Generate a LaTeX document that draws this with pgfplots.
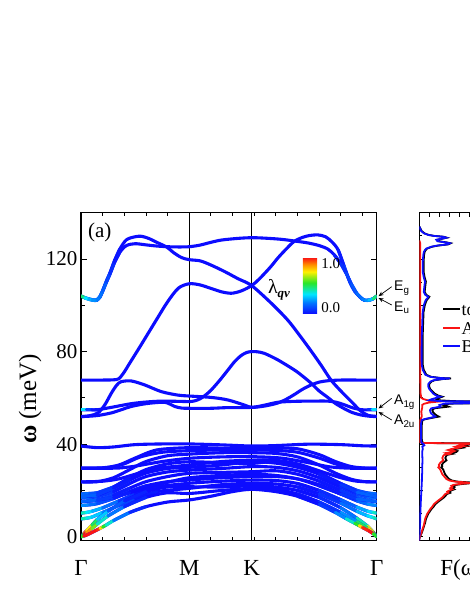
\documentclass[border=0pt]{standalone}
\usepackage{fontspec}
\setmainfont{Liberation Serif}
\newfontfamily\sansf{Liberation Sans}
\usepackage{pgfplots}
\usepackage{pgfplotstable}
\pgfplotsset{compat=1.18}
\usetikzlibrary{arrows.meta}

\definecolor{bandblue}{RGB}{12,12,255}
\definecolor{dosred}{RGB}{250,20,20}
\definecolor{dosblue}{RGB}{12,12,255}
\pgfplotsset{colormap={lqv}{rgb255(0cm)=(12,12,255); rgb255(2cm)=(0,120,255); rgb255(3.5cm)=(0,230,255); rgb255(5.5cm)=(40,230,40); rgb255(7.5cm)=(255,240,0); rgb255(8.8cm)=(255,140,0); rgb255(10cm)=(250,20,20)}}
\newcommand{\fs}[1]{\fontsize{#1}{#1}\selectfont}

% ---------- phonon bands: k (Gamma=0, M=1, K=1.577, Gamma=2.732), e in meV, c = lambda_qv
\pgfplotstableread{
k e c
0 104 0.55
0.035 103.3 0.4
0.07 102.8 0.3
0.105 102.4 0.25
0.145 102.3 0.22
0.175 103.8 0.2
0.2 106.3 0.18
0.235 110.5 0.13
0.268 114 0.08
0.31 119.3 0.04
0.36 124.4 0
0.42 128.3 0
0.5 129.6 0
0.56 129.8 0
0.63 128.8 0
0.7 127.2 0
0.79 125.2 0
0.86 122.6 0
0.93 120.6 0
1.0 119.7 0
1.1 119.2 0
1.2 117.4 0
1.33 114.5 0
1.45 111.5 0
1.577 108.5 0
1.76 100.8 0
1.91 93.6 0
2.02 87 0
2.13 80 0
2.22 74 0
2.31 67.7 0
2.4 63 0
2.5 58.3 0
2.58 54.5 0
2.65 52.5 0
2.732 52 0
}\bandA
\pgfplotstableread{
k e c
0 104 0.55
0.035 103.2 0.4
0.07 102.6 0.3
0.105 102.2 0.25
0.145 102.1 0.22
0.175 103.5 0.2
0.2 106 0.18
0.235 110 0.13
0.268 113.5 0.08
0.31 118.5 0.04
0.36 123 0
0.42 125.8 0
0.5 126.6 0
0.6 126.1 0
0.7 125.6 0
0.8 125.3 0
0.9 125.2 0
1.0 125.3 0
1.1 126 0
1.2 127.2 0
1.3 128.2 0
1.45 128.9 0
1.577 129.2 0
1.7 129 0
1.85 128.5 0
2.0 127.6 0
2.1 126.9 0
2.2 125.8 0
2.28 124.3 0
2.34 121.8 0
2.4 118 0.05
2.45 113.8 0.08
2.5 109 0.12
2.55 105 0.16
2.6 102.6 0.2
2.63 102.1 0.22
2.66 102.2 0.25
2.7 102.8 0.35
2.732 104 0.6
}\bandB
\pgfplotstableread{
k e c
0 67.7 0
0.1 67.7 0
0.2 67.7 0
0.3 67.8 0
0.35 68.3 0
0.4 71.2 0
0.45 75 0
0.55 82.5 0
0.695 93.6 0
0.8 101.5 0
0.9 107.4 0
1.0 109.3 0
1.1 108.8 0
1.2 107.3 0
1.3 105.8 0
1.39 105.2 0
1.48 106.2 0
1.577 108.5 0
1.65 111.5 0
1.75 116.5 0
1.82 120.5 0
1.9 124.5 0
1.97 127.6 0
2.05 129.4 0
2.12 130.2 0
2.19 130.4 0
2.26 129.6 0
2.32 127.3 0
2.376 123.9 0
2.43 117 0.06
2.484 110 0.12
2.53 106 0.16
2.576 103.7 0.2
2.62 102.1 0.22
2.67 102.3 0.28
2.7 102.9 0.35
2.732 104 0.6
}\bandC
\pgfplotstableread{
k e
0 51.9
0.08 52.3
0.157 53.5
0.22 57
0.28 62
0.33 65.5
0.372 67
0.465 67.3
0.588 65.6
0.742 62.7
0.895 61.2
1.0 60.8
1.203 60.2
1.357 59.1
1.51 56.9
1.577 55.9
1.7 56.5
1.819 57.8
1.9 59.5
1.973 61.5
2.05 63.8
2.127 65.6
2.2 66.8
2.28 67.4
2.4 67.7
2.55 67.7
2.732 67.7
}\bandD
\pgfplotstableread{
k e c
0 54.8 0.55
0.05 54.8 0.15
0.1 54.8 0.03
0.157 54.9 0
0.28 55.9 0
0.465 57.5 0
0.6 58.2 0
0.742 58.6 0
0.9 58.5 0
1.0 58.4 0
1.05 58.7 0
1.1 59.6 0
1.15 61.2 0
1.203 63.4 0
1.28 67.5 0
1.357 72 0
1.42 75.7 0
1.48 78.3 0
1.53 79.6 0
1.577 80 0
1.63 79.9 0
1.696 79.2 0
1.819 76.4 0
1.973 72 0
2.05 69.3 0
2.127 66.3 0
2.2 63 0
2.28 60.2 0
2.35 57.6 0
2.434 55.3 0
2.51 53.6 0
2.588 52.6 0
2.66 52.1 0
2.732 51.9 0
}\bandE
\pgfplotstableread{
k e c
0 51.9 0
0.08 52.1 0
0.157 52.4 0
0.28 53.5 0
0.38 55 0
0.465 56.3 0
0.6 57.5 0
0.742 58.1 0
0.8 57.8 0
0.865 56.3 0
0.93 55.6 0
1.0 55.5 0
1.2 55.5 0
1.357 55.8 0
1.577 55.9 0
1.7 56.9 0
1.819 58.1 0
1.97 58.5 0
2.127 58.6 0
2.28 58.6 0
2.36 58.1 0
2.434 57 0
2.51 55.7 0
2.588 54.9 0
2.65 54.8 0
2.69 54.8 0.12
2.732 54.8 0.55
}\bandF
\pgfplotstableread{
k e
0 39.2
0.15 38.5
0.3 38.8
0.5 39.8
0.75 40.1
1.0 40.1
1.3 39.7
1.577 39.2
1.8 39.4
2.1 40
2.4 39.8
2.6 39.3
2.732 39.2
}\lowA
\pgfplotstableread{
k e
0 29.6
0.15 29.6
0.27 29.9
0.4 31.5
0.55 34.5
0.75 36.5
1.0 37.2
1.3 37.5
1.577 37.5
1.8 37.3
2.0 36.5
2.2 34
2.35 31.5
2.5 29.9
2.62 29.6
2.732 29.6
}\lowB
\pgfplotstableread{
k e
0 29.6
0.2 29.6
0.35 29.7
0.5 30.5
0.75 32.5
1.0 33.9
1.3 34.5
1.577 34.6
1.85 34
2.1 32
2.3 30.2
2.5 29.6
2.732 29.6
}\lowC
\pgfplotstableread{
k e
0 23.7
0.15 23.8
0.3 25.5
0.45 29
0.6 32.5
0.8 35
1.0 35.7
1.3 36.3
1.577 36.3
1.8 36
2.0 34.5
2.2 31
2.35 27.5
2.5 24.8
2.62 23.8
2.732 23.7
}\lowD
\pgfplotstableread{
k e
0 23.7
0.2 24
0.35 25
0.5 27
0.7 29.5
1.0 31
1.3 32.5
1.577 33.1
1.8 33
2.0 31.5
2.2 28.5
2.4 25.5
2.55 24
2.732 23.7
}\lowE
\pgfplotstableread{
k e
0 29.6
0.2 29.8
0.35 31
0.5 34
0.7 37.5
1.0 38.5
1.3 38.3
1.577 38.2
1.8 38.3
2.0 38
2.2 35.5
2.35 32.5
2.5 30.3
2.65 29.6
2.732 29.6
}\lowF
\pgfplotstableread{
k e c
0 18.5 0.2
0.08 18.7 0.15
0.15 19 0.12
0.3 21.5 0.05
0.45 25.5 0
0.6 29 0
0.8 31.5 0
1.0 32.4 0
1.3 32 0
1.577 31.7 0
1.8 32.5 0
2.0 31 0
2.2 27.5 0
2.4 23 0.03
2.55 20 0.1
2.65 18.9 0.15
2.732 18.5 0.2
}\lowG
\pgfplotstableread{
k e c
0 16.8 0.2
0.08 17 0.15
0.15 17.3 0.12
0.3 19.5 0.05
0.45 23 0
0.6 26 0
0.8 28 0
1.0 28.8 0
1.3 29.5 0
1.577 30.3 0
1.8 30 0
2.0 28.5 0
2.2 25.5 0
2.4 21.5 0.03
2.55 18.5 0.1
2.65 17.2 0.15
2.732 16.8 0.2
}\lowH
\pgfplotstableread{
k e c
0 15.2 0.22
0.08 15.4 0.18
0.15 15.8 0.14
0.3 18 0.06
0.45 21 0
0.6 23.8 0
0.8 26 0
1.0 27.4 0
1.3 27.8 0
1.577 28.1 0
1.8 28.5 0
2.0 27 0
2.2 24 0
2.4 20 0.04
2.55 17 0.12
2.65 15.7 0.17
2.732 15.2 0.22
}\lowI
\pgfplotstableread{
k e c
0 13.5 0.25
0.08 13.8 0.2
0.15 14.3 0.16
0.3 16.5 0.08
0.45 19.5 0.02
0.6 22 0
0.8 23.8 0
1.0 24.5 0
1.3 25.5 0
1.577 26 0
1.8 26 0
2.0 25 0
2.2 22.5 0
2.4 18.5 0.05
2.55 15.5 0.14
2.65 14.1 0.2
2.732 13.5 0.25
}\lowJ
\pgfplotstableread{
k e c
0 10.2 0.45
0.05 10.5 0.38
0.1 11 0.32
0.2 12.5 0.25
0.35 15.5 0.12
0.5 18.5 0.04
0.7 21.5 0
1.0 23.1 0
1.3 24 0
1.577 24.5 0
1.8 24.3 0
2.0 23 0
2.2 20 0.02
2.4 16 0.1
2.55 12.8 0.22
2.65 11 0.3
2.7 10.5 0.36
2.732 10.2 0.45
}\lowK
\pgfplotstableread{
k e c
0 7.7 0.45
0.05 8 0.4
0.1 8.5 0.35
0.2 10.5 0.28
0.35 13.5 0.15
0.5 16.5 0.05
0.7 19.5 0
1.0 20.9 0
1.3 22.5 0
1.577 23.1 0
1.8 22.8 0
2.0 21.5 0
2.2 18.5 0.03
2.4 14.5 0.12
2.55 11 0.25
2.65 9 0.32
2.7 8.3 0.38
2.732 7.7 0.45
}\lowL
\pgfplotstableread{
k e c
0 15.2 0.2
0.15 15.9 0.12
0.3 17 0.06
0.45 19 0
0.6 21 0
0.8 23.5 0
1.0 25.5 0
1.3 26.5 0
1.577 27 0
1.8 26.5 0
2.0 25 0
2.2 22 0
2.4 18.5 0.04
2.55 16.3 0.12
2.732 15.2 0.2
}\lowM
\pgfplotstableread{
k e c
0 17.3 0.2
0.15 18 0.12
0.3 21 0.05
0.45 24.5 0
0.6 27.5 0
0.8 29.5 0
1.0 30 0
1.3 31 0
1.577 32.4 0
1.8 31.8 0
2.0 30 0
2.2 27 0
2.4 22.5 0.04
2.55 19.2 0.12
2.732 17.3 0.2
}\lowN
\pgfplotstableread{
k e c
0 0 0.1
0.025 1.3 0.95
0.05 2.5 0.9
0.1 5 0.6
0.15 7.5 0.4
0.25 11 0.22
0.4 15.5 0.08
0.6 19.5 0
0.8 21.5 0
1.0 21.6 0
1.3 21.5 0
1.577 22 0
1.8 21.5 0
2.0 20 0
2.2 17 0.02
2.4 12.5 0.1
2.55 8 0.3
2.65 4.5 0.55
2.7 2 0.9
2.715 1 0.95
2.732 0 0.1
}\acA
\pgfplotstableread{
k e c
0 0 0.1
0.025 0.8 1
0.05 1.6 1
0.1 3.5 0.75
0.15 5.5 0.5
0.25 9 0.3
0.4 13 0.1
0.6 17 0
0.8 19 0
1.0 18.7 0
1.3 20 0
1.577 20.9 0
1.8 20.5 0
2.0 18.5 0
2.2 15 0.03
2.4 10.5 0.12
2.55 6.5 0.35
2.65 3.5 0.65
2.7 1.8 0.9
2.732 0 0.1
}\acB
\pgfplotstableread{
k e c
0 0 0.1
0.025 0.3 1
0.05 0.7 1
0.1 1.8 1
0.15 3 1
0.175 3.6 0.95
0.2 4.2 0.6
0.23 5 0.5
0.3 7 0.3
0.45 10.5 0.1
0.6 13 0
0.8 15 0
1.0 15.9 0
1.2 17.5 0
1.4 19.5 0
1.577 20.5 0
1.8 19.5 0
2.0 17.5 0
2.2 14 0.02
2.35 10.5 0.15
2.45 7.8 0.3
2.53 5.8 0.5
2.57 4.8 0.6
2.6 4 0.95
2.66 2.5 1
2.7 1.3 1
2.732 0 0.1
}\acC

% ---------- phonon DOS: e in meV, d in arbitrary units
\pgfplotstableread{
e d
134 0
133.5 0.8
132 2.5
131 5.5
130.4 9.5
130 14.5
129.6 24.5
129.2 27.5
128.9 24.5
128.3 17.8
127.7 18.8
127.2 26.8
126.8 31.3
126.3 28.8
125.8 18.8
125.3 12.8
124.5 7.8
123.9 6.5
123 5.3
121.7 4.8
119 4.3
116 4.3
114.5 4.3
112 5.4
110.2 6.6
108 5.9
105.8 5.4
104.5 7
103.7 10
103 9
102.3 7.5
101.5 6.7
100 5.5
97.2 4.3
93 3.9
88 3.5
85.7 3.3
80 3.3
76 3.3
74.2 3.5
72 4.5
71.3 5.5
70 7
69.1 11.7
68.6 21
68.4 31.7
68.1 23
67.6 15
67 12
66 10
64.8 10
63.8 11
62.6 13.6
61.8 15.5
61 19
60.5 23
60 20
59.4 17
59 18
58.6 34
58.3 90
57.9 90
57.5 30
56.9 24
56.2 29
55.5 15
54.7 13
54 13.5
53.2 15
52.5 17
51.9 19.5
51.3 12
50.8 6
50.4 3.2
49 2.6
46 2.3
43 2.3
41 2.8
40.5 4.5
40.3 74
40.1 49
39.8 47
39.5 45
39.2 48
38.9 42
38.5 44
38 37
37.5 32
37 38
36.6 37
36.2 30
35.8 33
35.4 28
35 27
34 26
33 27.2
32 24
31 22.5
30.5 23
30 22
29 24
28 24.8
27 25.8
26 27.6
25 29.6
24.3 32.5
23.8 38.5
23.5 50
23.2 53
22.8 43
22.4 36.5
22 34.2
21.5 35.2
21 33.2
20.5 35
20 32
19.5 30
19 31
18.5 27.8
18 26.8
17 24.7
16 21.6
15 18.5
14 15.9
13 14.3
12 12.2
11 10.6
10 9
9 8
8 6.9
7 6.3
6 5.8
5 5
4 4.3
3 3.5
2 2.7
1 1.8
0 0.5
-1 0
-1.7 0
}\dostot
\pgfplotstableread{
e d
128 0
127 0.8
110 0.9
100 1
90 0.9
80 1
70 1
62 1.2
60 2
59.5 4
59 8
58.5 14
58.3 17
58 10
57.5 5
57 3
56 3
55 2.5
54 2
52 2.5
51 1.5
50 0.8
45 0.6
41 0.8
40.5 2
40.3 70
40.1 45
39.8 42
39.5 40
39.2 44
38.9 37
38.5 40
38 33
37.5 29
37 35
36.6 33
36.2 27
35.8 30
35.4 25
35 24
34 23
33 24
32 21
31 19.5
30.5 20
30 19
29 21
28 22
27 23
26 25
25 27
24.3 30
23.8 36
23.5 47
23.2 50
22.8 40
22.4 34
22 32
21.5 33
21 31
20.5 33
20 30
19.5 28
19 29
18.5 26
18 25
17 23
16 20
15 17
14 14.5
13 13
12 11
11 9.5
10 8
9 7
8 6
7 5.5
6 5
5 4.5
4 3.8
3 3
2 2.3
1 1.5
0 0.5
-1 0
-1.7 0
}\dosA
\pgfplotstableread{
e d
134 0
133.5 0.5
132 2
131 5
130.4 9
130 14
129.6 24
129.2 27
128.9 24
128.3 17
127.7 18
127.2 26
126.8 30.5
126.3 28
125.8 18
125.3 12
124.5 7
123.9 5.7
123 4.5
121.7 4
119 3.5
116 3.4
114.5 3.4
112 4.5
110.2 5.7
108 5
105.8 4.5
104.5 6
103.7 9
103 8
102.3 6.5
101.5 5.7
100 4.5
97.2 3.4
93 3
88 2.6
85.7 2.4
80 2.3
76 2.3
74.2 2.5
72 3.5
71.3 4.5
70 6
69.1 10.7
68.6 20
68.4 30.7
68.1 22
67.6 14
67 11
66 9
64.8 9
63.8 10
62.6 12.4
61.8 14
61 17
60.5 21
60 17
59.4 12
59 10
58.6 20
58.3 80
57.9 80
57.5 25
56.9 20
56.2 21
55.5 12
54.7 10.7
54 11
53.2 12
52.5 14
51.9 16
51.3 10
50.8 5
50.4 2.4
49 1.8
46 1.7
43 1.7
41 2
40.5 2.5
40.2 4
39.5 5
39 3
38 3.5
37 3
35 3
33 3.2
31 3
29 3
27 2.8
25 2.6
23 2.5
21 2.2
19 2
17 1.7
15 1.5
12 1.2
9 1
6 0.8
3 0.5
1 0.3
0 0
-1.7 0
}\dosB

\newcommand{\bandline}[1]{\addplot[bandblue, smooth, line width=3.1pt] table[x=k,y=e]{#1};}
\newcommand{\tintL}[2]{\addplot[mesh, point meta=explicit, line width=3.1pt, line cap=round, restrict x to domain=0:#2] table[x=k,y=e,meta=c]{#1};}
\newcommand{\tintR}[2]{\addplot[mesh, point meta=explicit, line width=3.1pt, line cap=round, restrict x to domain=#2:3] table[x=k,y=e,meta=c]{#1};}

\begin{document}
\begin{tikzpicture}
\useasboundingbox (0pt,0pt) rectangle (469pt,607pt);

\begin{axis}[
  at={(81pt,66.3pt)}, anchor=south west,
  scale only axis, width=295.7pt, height=328pt,
  xmin=0, xmax=2.732, ymin=-1.7, ymax=140,
  xtick={0,1,1.577,2.732}, xticklabels={Γ,M,K,Γ},
  minor xtick={0.2,0.4,...,2.6},
  ytick={0,40,80,120}, minor ytick={20,60,100},
  tick pos=both, xticklabel pos=bottom, yticklabel pos=left,
  tick align=inside,
  major tick length=6pt, minor tick length=3.5pt,
  every tick/.style={black, line width=0.8pt},
  axis line style={black, line width=1.1pt},
  xmajorgrids, major grid style={black, line width=0.8pt},
  /pgf/number format/assume math mode=true,
  yticklabel style={font=\fs{21}},
  xticklabel style={font=\fs{23}, anchor=base, yshift=-35pt},
  ylabel={\textbf{ω} (meV)},
  ylabel style={at={(axis description cs:-0.1725,0.432)}, anchor=center, font=\fs{25}},
  colormap name=lqv, point meta min=0, point meta max=1,
  colorbar,
  colorbar style={
    at={(parent axis.north west)}, anchor=north west,
    xshift=213.3pt, yshift=-45pt,
    scale only axis, width=15pt, height=56pt,
    axis line style={draw=none},
    ytick={0.1,0.9}, yticklabels={0.0,1.0}, minor ytick={},
    major tick length=0pt,
    yticklabel style={font=\fs{15}},
  },
]
\bandline{\lowA}
\bandline{\lowB}
\bandline{\lowC}
\bandline{\lowD}
\bandline{\lowE}
\bandline{\lowF}
\bandline{\lowG}\tintL{\lowG}{0.45}\tintR{\lowG}{2.2}
\bandline{\lowH}\tintL{\lowH}{0.45}\tintR{\lowH}{2.2}
\bandline{\lowI}\tintL{\lowI}{0.45}\tintR{\lowI}{2.2}
\bandline{\lowJ}\tintL{\lowJ}{0.6}\tintR{\lowJ}{2.2}
\bandline{\lowK}\tintL{\lowK}{0.7}\tintR{\lowK}{2.0}
\bandline{\lowL}\tintL{\lowL}{0.7}\tintR{\lowL}{2.0}
\bandline{\lowM}\tintL{\lowM}{0.45}\tintR{\lowM}{2.2}
\bandline{\lowN}\tintL{\lowN}{0.45}\tintR{\lowN}{2.2}
\bandline{\acA}\tintL{\acA}{0.6}\tintR{\acA}{2.0}
\bandline{\acB}\tintL{\acB}{0.6}\tintR{\acB}{2.0}
\bandline{\acC}\tintL{\acC}{0.6}\tintR{\acC}{2.0}
\bandline{\bandD}
\bandline{\bandE}\tintL{\bandE}{0.157}
\bandline{\bandF}\tintR{\bandF}{2.65}
\bandline{\bandC}\tintR{\bandC}{2.376}
\bandline{\bandA}\tintL{\bandA}{0.36}
\bandline{\bandB}\tintL{\bandB}{0.36}\tintR{\bandB}{2.34}
\end{axis}

\begin{axis}[
  at={(419.3pt,66.3pt)}, anchor=south west,
  scale only axis, width=85.4pt, height=328pt,
  xmin=0, xmax=85.4, ymin=-1.7, ymax=140,
  xtick={0,10,...,80}, xticklabels={},
  ytick={0,20,...,140}, minor ytick={10,30,...,130}, yticklabels={},
  tick pos=both, tick align=inside,
  major tick length=4pt, minor tick length=3pt,
  every tick/.style={black, line width=0.8pt},
  axis line style={black, line width=1.1pt},
  xlabel={F(ω)},
  xlabel style={at={(axis description cs:0.5,0)}, anchor=base, yshift=-35pt, font=\fs{23}},
  legend style={draw=none, fill=none, at={(axis description cs:0.265,0.727)}, anchor=north west,
    font=\fs{18}, row sep=0pt, inner sep=0pt,
    nodes={inner sep=0.5pt, text height=13pt, text depth=4.5pt},
    /tikz/every even column/.append style={column sep=0pt}},
  legend cell align=left,
  legend image code/.code={\draw[#1, line width=2pt] (0pt,0.5ex) -- (17pt,0.5ex);},
]
\addplot[black, line width=1.8pt] table[x=d,y=e]{\dostot};
\addlegendentry{total}
\addplot[dosred, line width=1.8pt] table[x=d,y=e]{\dosA};
\addlegendentry{Al}
\addplot[dosblue, line width=1.8pt] table[x=d,y=e]{\dosB};
\addlegendentry{B}
\end{axis}

% annotations
\node[font=\fs{21}] at (99.7pt,374.5pt) {(a)};
\node[anchor=east, font=\fs{20}] at (293.5pt,317pt) {λ\raisebox{-0.45ex}{\fs{13}\bfseries\itshape qν}};
\draw[-{Stealth[length=5pt,width=4pt]}, line width=0.7pt] (391.7pt,320.3pt) -- (378.5pt,310.8pt);
\draw[-{Stealth[length=5pt,width=4pt]}, line width=0.7pt] (391.7pt,302pt) -- (378.5pt,309pt);
\node[anchor=base west, inner sep=0pt, font=\sansf\fs{14}] at (394pt,316pt) {E\textsubscript{g}};
\node[anchor=base west, inner sep=0pt, font=\sansf\fs{14}] at (394pt,295.3pt) {E\textsubscript{u}};
\draw[-{Stealth[length=5pt,width=4pt]}, line width=0.7pt] (391.7pt,208.7pt) -- (378.5pt,198.5pt);
\draw[-{Stealth[length=5pt,width=4pt]}, line width=0.7pt] (391.7pt,187pt) -- (378.5pt,195pt);
\node[anchor=base west, inner sep=0pt, font=\sansf\fs{14}] at (394pt,202pt) {A\textsubscript{1g}};
\node[anchor=base west, inner sep=0pt, font=\sansf\fs{14}] at (394pt,182pt) {A\textsubscript{2u}};
\end{tikzpicture}
\end{document}
